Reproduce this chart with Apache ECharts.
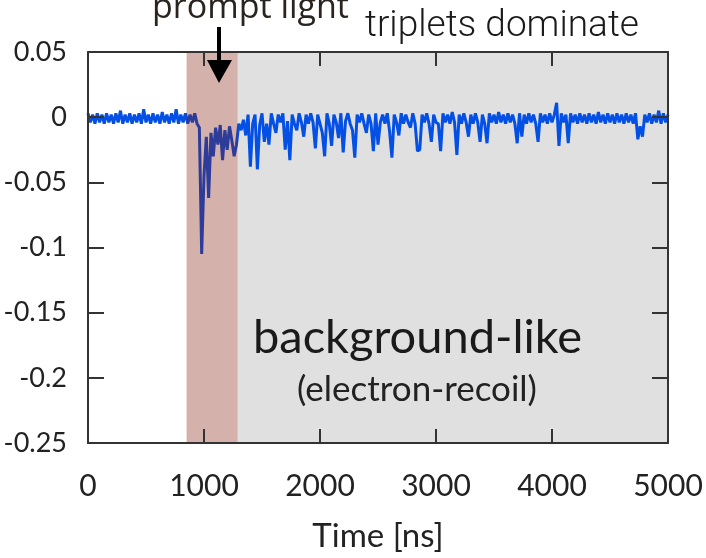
<!DOCTYPE html>
<html>
<head>
<meta charset="utf-8">
<script src="https://cdn.jsdelivr.net/npm/echarts@6/dist/echarts.min.js"></script>
<style>
  html, body { margin: 0; padding: 0; background: #fff; }
  #chart { width: 706px; height: 558px; }
</style>
</head>
<body>
<div id="chart"></div>
<script>
// waveform, one sample every 20 ns from 0 to 5000 ns
const sampleStep = 20
const signal = [
  0.003, -0.004, 0.002, -0.005, 0.003, -0.004, 0.002, -0.005, 0.003, -0.004,
  0.002, -0.005, 0.003, -0.004, 0.005, -0.005, 0.002, -0.004, 0.003, -0.005,
  0.002, -0.004, 0.003, -0.005, 0.006, -0.004, 0.002, -0.005, 0.003, -0.004,
  0.002, -0.005, 0.004, -0.004, 0.002, -0.005, 0.003, -0.004, 0.006, -0.005,
  0.002, -0.004, 0.003, -0.005, 0.002, -0.004, 0.003, -0.005, -0.008, -0.105,
  -0.045, -0.015, -0.062, -0.012, -0.030, -0.008, -0.021, -0.006, -0.033, -0.010,
  -0.025, -0.007, -0.018, -0.030, -0.021, -0.005, -0.010, -0.002, -0.014, 0.002,
  -0.038, -0.005, 0.002, -0.040, -0.006, 0.003, -0.019, -0.005, -0.021, 0.003,
  -0.005, -0.012, 0.002, -0.004, 0.003, -0.025, -0.003, -0.033, 0.002, -0.005,
  -0.010, 0.003, -0.004, -0.015, 0.002, -0.005, 0.003, -0.004, -0.024, 0.002,
  -0.005, -0.012, -0.030, 0.003, -0.005, -0.022, 0.002, -0.004, -0.016, 0.003,
  -0.027, -0.003, 0.003, -0.005, -0.010, -0.031, 0.002, -0.004, 0.003, -0.005,
  -0.012, 0.002, -0.005, -0.026, 0.003, -0.021, -0.004, 0.002, -0.005, 0.003,
  -0.011, -0.031, 0.002, -0.004, -0.014, 0.003, -0.005, 0.002, -0.004, -0.008,
  0.003, -0.005, -0.026, -0.025, 0.002, -0.004, 0.003, -0.005, -0.019, 0.002,
  -0.004, -0.005, -0.026, 0.003, -0.004, 0.002, -0.005, 0.004, -0.004, -0.029,
  0.002, -0.005, 0.003, -0.004, -0.015, 0.002, -0.005, 0.003, -0.004, -0.019,
  0.002, -0.005, -0.020, 0.003, -0.004, 0.002, -0.005, 0.004, -0.004, 0.002,
  -0.005, 0.003, -0.004, 0.002, -0.005, -0.020, 0.003, -0.015, 0.002, -0.005,
  0.003, -0.004, 0.002, -0.005, -0.019, 0.003, -0.004, 0.002, -0.005, 0.003,
  -0.004, 0.002, 0.011, -0.022, 0.003, -0.004, 0.002, -0.020, 0.003, -0.004,
  0.002, -0.005, 0.003, -0.004, 0.002, -0.005, 0.003, -0.004, 0.002, -0.005,
  0.004, -0.004, 0.002, -0.005, 0.003, -0.004, 0.002, -0.005, 0.003, -0.004,
  0.002, -0.005, 0.003, -0.004, 0.002, -0.005, 0.003, -0.017, -0.007, -0.015,
  0.002, -0.004, 0.003, -0.005, 0.002, -0.004, 0.005, -0.005, 0.003, -0.004,
  0.002
]
const timeRange = [0, 5000]
const ampRange = [-0.25, 0.05]
const promptWindow = [850, 1290]
const tripletWindow = [1290, 5000]

const chart = echarts.init(document.getElementById('chart'))

const frameColor = '#333'
const labelFont = 'Lato'

const points = signal.map((v, i) => [i * sampleStep, v])

function frameAxis(extra) {
  return Object.assign({
    type: 'value',
    z: 10,
    axisLine: { onZero: false, lineStyle: { color: frameColor, width: 2 } },
    axisTick: { inside: true, length: 14, lineStyle: { color: frameColor, width: 2 } },
    axisLabel: { show: false },
    splitLine: { show: false }
  }, extra)
}

const option = {
  animation: false,
  grid: { left: 88, right: 38, top: 52, bottom: 112 },
  xAxis: [
    frameAxis({
      min: timeRange[0],
      max: timeRange[1],
      interval: 1000,
      name: 'Time [ns]',
      nameLocation: 'middle',
      nameGap: 77,
      nameTextStyle: { fontFamily: labelFont, fontSize: 33, color: '#222' },
      axisLabel: {
        margin: 28, fontFamily: labelFont, fontSize: 30, color: '#222',
        formatter: v => String(v)
      }
    }),
    frameAxis({
      position: 'top',
      min: timeRange[0],
      max: timeRange[1],
      interval: 1000
    })
  ],
  yAxis: [
    frameAxis({
      min: ampRange[0],
      max: ampRange[1],
      interval: 0.05,
      axisTick: { inside: true, length: 16, lineStyle: { color: frameColor, width: 2 } },
      axisLabel: { margin: 21, fontFamily: labelFont, fontSize: 27, color: '#222' }
    }),
    frameAxis({
      position: 'right',
      min: ampRange[0],
      max: ampRange[1],
      interval: 0.05,
      axisTick: { inside: true, length: 16, lineStyle: { color: frameColor, width: 2 } }
    })
  ],
  series: [
    {
      // grey "triplets" region sits under the trace
      type: 'line',
      data: [],
      z: 1,
      markArea: {
        silent: true,
        z: 1,
        itemStyle: { color: '#e0e0e0' },
        data: [[{ xAxis: tripletWindow[0] }, { xAxis: tripletWindow[1] }]]
      }
    },
    {
      type: 'line',
      data: points,
      z: 2,
      showSymbol: false,
      symbol: 'none',
      sampling: false,
      lineStyle: { color: '#0550e4', width: 3 },
      clip: true
    },
    {
      // prompt window drawn over the trace, semi-transparent
      type: 'line',
      data: [],
      z: 3,
      markArea: {
        silent: true,
        z: 3,
        itemStyle: { color: 'rgba(126, 18, 0, 0.33)' },
        data: [[{ xAxis: promptWindow[0] }, { xAxis: promptWindow[1] }]]
      }
    }
  ],
  graphic: [
    {
      type: 'text',
      left: 152,
      top: -9,
      z: 100,
      style: { text: 'prompt light', font: '34px "Open Sans"', fill: '#2a2420' }
    },
    {
      type: 'text',
      left: 365,
      top: 8,
      z: 100,
      style: { text: 'triplets dominate', font: '300 37px Roboto', fill: '#1a1a1a' }
    },
    {
      type: 'line',
      z: 100,
      shape: { x1: 219, y1: 27, x2: 219, y2: 64 },
      style: { stroke: '#000', lineWidth: 4 }
    },
    {
      type: 'polygon',
      z: 100,
      shape: { points: [[207, 60], [232, 60], [219, 83]] },
      style: { fill: '#000' }
    },
    {
      type: 'text',
      left: 253,
      top: 314,
      z: 100,
      style: { text: 'background-like', font: '47px Lato', fill: '#1a1a1a' }
    },
    {
      type: 'text',
      left: 297,
      top: 372,
      z: 100,
      style: { text: '(electron-recoil)', font: '35px Lato', fill: '#222' }
    }
  ]
}

chart.setOption(option)
window.addEventListener('resize', () => chart.resize())
</script>
</body>
</html>
